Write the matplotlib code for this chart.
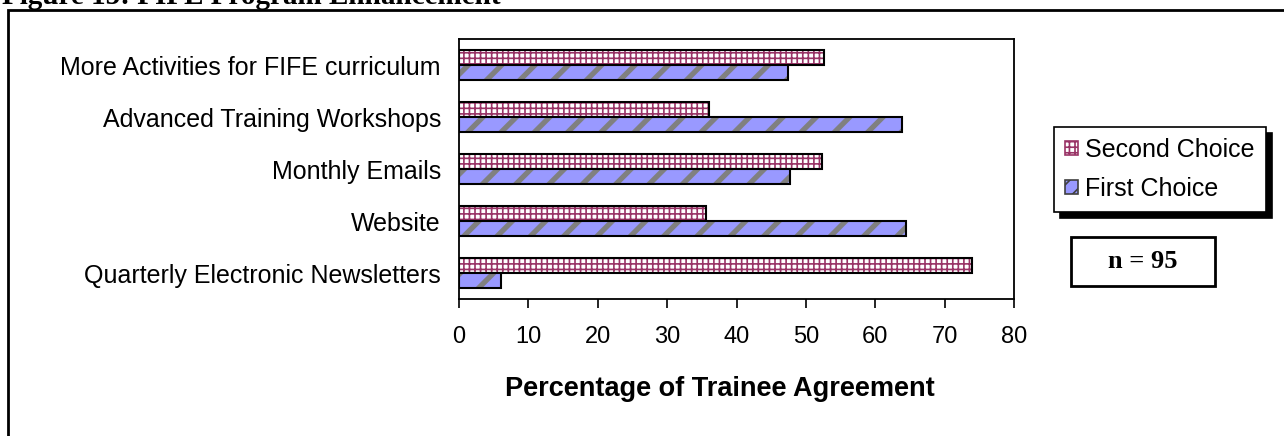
import matplotlib

matplotlib.use("Agg")
import matplotlib.pyplot as plt
from matplotlib.patches import Rectangle, Patch

categories = [
    "Quarterly Electronic Newsletters",
    "Website",
    "Monthly Emails",
    "Advanced Training Workshops",
    "More Activities for FIFE curriculum",
]
first_choice = [6.0, 64.4, 47.7, 63.9, 47.4]
second_choice = [74.0, 35.6, 52.3, 36.1, 52.6]
x_ticks = [0, 10, 20, 30, 40, 50, 60, 70, 80]
sample_note = "n = 95"

W, H = 1284, 436
plt.rcParams["font.family"] = ["Liberation Sans", "DejaVu Sans"]

fig = plt.figure(figsize=(W / 100, H / 100), dpi=100)
ax = fig.add_axes([459 / W, (H - 299) / H, 555 / W, 260 / H])

y = list(range(len(categories)))
h = 0.28
y_first = [v - h / 2 for v in y]
y_second = [v + h / 2 for v in y]

# hatched fills first, black outlines on top
plt.rcParams["hatch.linewidth"] = 1.2
ax.barh(y_second, second_choice, height=h, color="white", edgecolor="#993366",
        hatch="+++", linewidth=0)
ax.barh(y_second, second_choice, height=h, fill=False, edgecolor="black", linewidth=1.5)
first = ax.barh(y_first, first_choice, height=h, color="#9999ff", edgecolor="#808080",
                hatch="/", linewidth=0)
for p in first:
    try:
        p.set_hatch_linewidth(3.8)
    except AttributeError:
        pass
ax.barh(y_first, first_choice, height=h, fill=False, edgecolor="black", linewidth=1.5)

ax.set_xlim(0, 80)
ax.set_ylim(-0.5, len(categories) - 0.5)
ax.set_xticks(x_ticks)
ax.set_yticks(y)
ax.set_yticklabels(categories, fontsize=18)
ax.tick_params(axis="y", length=0, pad=13)
ax.tick_params(axis="x", length=6.5, width=1.2, direction="out", labelsize=17, pad=13)
for s in ax.spines.values():
    s.set_linewidth(1.3)
ax.set_xlabel("Percentage of Trainee Agreement", fontsize=19.5, fontweight="bold")
ax.xaxis.set_label_coords(0.47, -0.298)

handles = [
    Patch(facecolor="white", edgecolor="#993366", hatch="+++", linewidth=1.2),
    Patch(facecolor="#9999ff", edgecolor="#404040", hatch="//", linewidth=1.2),
]
leg = fig.legend(handles, ["Second Choice", "First Choice"], loc="upper left",
                 bbox_to_anchor=(1054 / W, 1 - 127 / H), fontsize=18,
                 frameon=True, fancybox=False, handlelength=0.5, handleheight=0.5,
                 handletextpad=0.3, borderpad=0.45, labelspacing=0.6, borderaxespad=0,
                 shadow={"ox": 4, "oy": -4, "color": "black", "alpha": 1})
leg.get_frame().set_edgecolor("black")
leg.get_frame().set_linewidth(1.2)

# sample size box
fig.patches.append(Rectangle((1071 / W, 1 - 286 / H), 144 / W, 49 / H,
                             transform=fig.transFigure, fill=False,
                             edgecolor="black", linewidth=2))
fig.text(1143 / W, 1 - 262 / H, sample_note, ha="center", va="center",
         fontsize=19, fontweight="bold", family="Liberation Serif")

# outer frame and caption
fig.patches.append(Rectangle((8 / W, -0.1), 1.2, 1 - 10 / H + 0.1,
                             transform=fig.transFigure, fill=False,
                             edgecolor="black", linewidth=2))
fig.text(2 / W, 1 - 4 / H, "Figure 15: FIFE Program Enhancement", ha="left",
         va="baseline", fontsize=21, fontweight="bold", family="Liberation Serif")

fig.savefig("out.png", dpi=100)
